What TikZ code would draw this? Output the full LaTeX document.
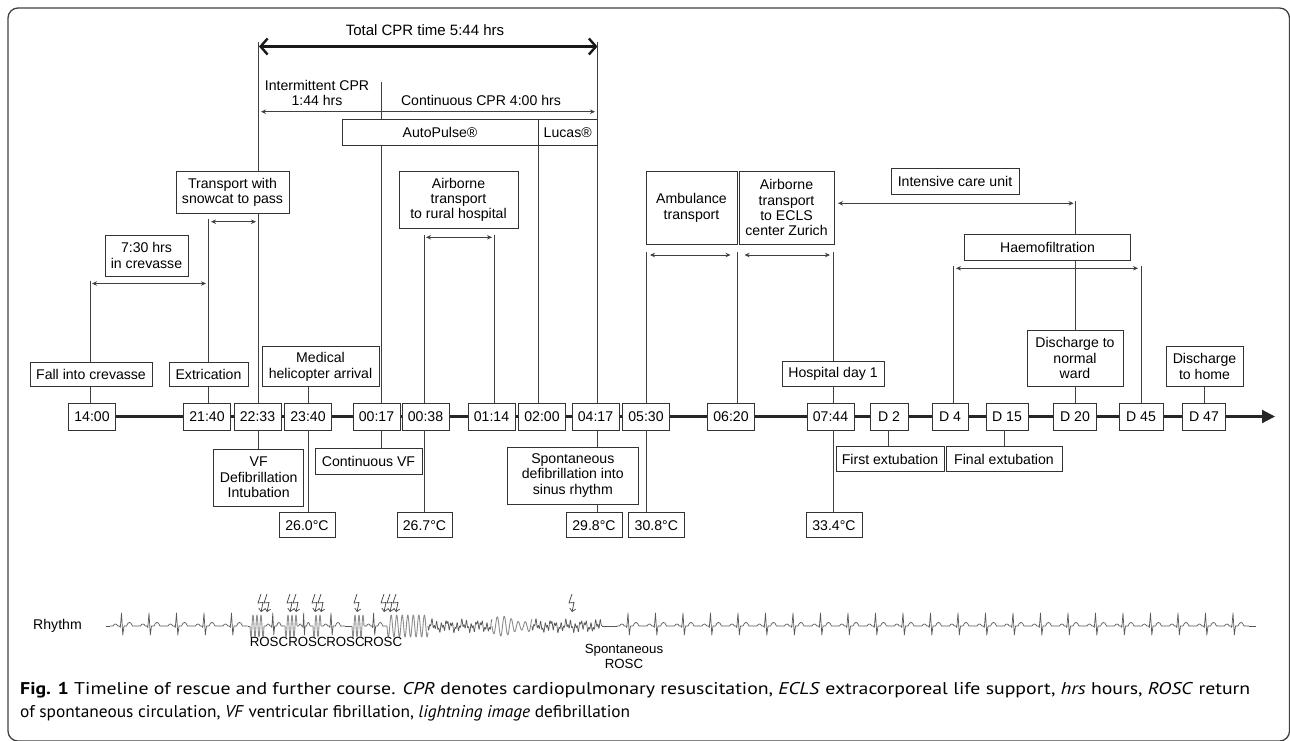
\documentclass[tikz,border=0pt]{standalone}
\usepackage{fontspec}
\usepackage{graphicx}
\setmainfont{Liberation Sans}
\newfontfamily\capfont{PT Sans}
\usetikzlibrary{arrows.meta,backgrounds}
\newcommand\boxfont{\fontsize{14.1}{15.3}\selectfont}
\newcommand\smallfnt{\fontsize{13.3}{15.2}\selectfont}
\newcommand\capsize{\fontsize{17}{20}\selectfont}
\newcommand\capone{\textbf{Fig. 1} Timeline of rescue and further course. \textit{CPR} denotes cardiopulmonary resuscitation, \textit{ECLS} extracorporeal life support, \textit{hrs} hours, \textit{ROSC} return}
\newcommand\captwo{of spontaneous circulation, \textit{VF} ventricular fibrillation, \textit{lightning image} defibrillation}
\begin{document}
\begin{tikzpicture}[x=1pt,y=-1pt,
 box/.style={draw=black!80, line width=0.9pt, fill=white, inner sep=1pt, align=center, font=\boxfont, text=black},
 tbox/.style={box, minimum width=47pt, minimum height=27pt},
 conn/.style={draw=black!75, line width=0.8pt},
 darr/.style={conn, {Stealth[length=5pt,width=4.5pt]}-{Stealth[length=5pt,width=4.5pt]}},
 bigarr/.style={draw=black!90, line width=2.4pt, {Straight Barb[length=7pt,width=16pt]}-{Straight Barb[length=7pt,width=16pt]}},
 axisline/.style={draw=black!85, line width=2.2pt, -{Triangle[length=13pt,width=13pt]}},
 lbl/.style={align=center, font=\boxfont, inner sep=0pt, text=black},
 ecg/.style={draw=black!65, line width=0.7pt, line join=round},
 vfc/.style={draw=black!45, line width=0.9pt, line join=round},
 boltarr/.style={draw=black!75, line width=0.7pt, -{Straight Barb[length=3pt,width=6pt]}},
 beat/.pic={\draw[ecg] (0,0) -- (3,0) -- (4.2,-1.6) -- (5.4,-2) -- (6.6,-1.6) -- (7.8,0) -- (9.5,0) -- (10.3,1.5) -- (11.5,-13) -- (12.8,9) -- (14,0) -- (16.5,0) -- (18,-2.8) -- (19.5,-3.5) -- (21,-2.8) -- (22.5,0) -- (27.5,0);}
]
\useasboundingbox (0,0) rectangle (1290,740);
\draw[black!75, line width=1.3pt, rounded corners=10pt] (8,8) rectangle (1289.5,741);

% ---- time boxes
\node[tbox] (t1400) at (92,416.5) {14:00};
\node[tbox] (t2140) at (207,416.5) {21:40};
\node[tbox] (t2233) at (257.5,416.5) {22:33};
\node[tbox] (t2340) at (308,416.5) {23:40};
\node[tbox] (t0017) at (376.5,416.5) {00:17};
\node[tbox] (t0038) at (425.5,416.5) {00:38};
\node[tbox] (t0114) at (491.5,416.5) {01:14};
\node[tbox] (t0200) at (542,416.5) {02:00};
\node[tbox] (t0417) at (595.5,416.5) {04:17};
\node[tbox] (t0530) at (646,416.5) {05:30};
\node[tbox] (t0620) at (731,416.5) {06:20};
\node[tbox] (t0744) at (830.5,416.5) {07:44};
\node[tbox, minimum width=38pt] (tD2) at (889,416.5) {D 2};
\node[tbox, minimum width=36pt] (tD4) at (950,416.5) {D 4};
\node[tbox, minimum width=42pt] (tD15) at (1007,416.5) {D 15};
\node[tbox, minimum width=43pt] (tD20) at (1075,416.5) {D 20};
\node[tbox, minimum width=44pt] (tD45) at (1141,416.5) {D 45};
\node[tbox, minimum width=43pt] (tD47) at (1204,416.5) {D 47};
\coordinate (axend) at (1275,416.5);
\begin{pgfonlayer}{background}
\draw[axisline] (t1400.east) -- (axend);
\end{pgfonlayer}

% ---- top
\node[lbl, font=\fontsize{15}{16}\selectfont] (title) at (425,30) {Total CPR time 5:44 hrs};
\coordinate (bl) at (259,46.5);
\coordinate (br) at (597.5,46.5);
\draw[bigarr] (bl) -- (br);
\node[lbl] (inter) at (317,93) {Intermittent CPR\\1:44 hrs};
\node[lbl] (cont) at (481,100.7) {Continuous CPR 4:00 hrs};
\coordinate (tl) at (261,111.7);
\coordinate (tr) at (595,111.7);
\draw[darr] (tl) -- (tr);
\node[box, minimum width=196pt, minimum height=25.7pt] (ap) at (440,132.2) {AutoPulse®};
\node[box, minimum width=59.5pt, minimum height=25.7pt] (lucas) at (567.75,132.2) {Lucas®};
\coordinate (v381) at (381,81.7);
\draw[conn] (v381) -- (381,0 |- ap.north);
\draw[conn] (381,0 |- ap.south) -- (381,0 |- t0017.north);
\draw[conn] (538,0 |- ap.south) -- (538,0 |- t0200.north);
\draw[conn] (258,42) -- (258,0 |- t2233.north);
\draw[conn] (597.5,42) -- (597.5,0 |- lucas.north);
\draw[conn] (597.5,0 |- lucas.south) -- (597.5,0 |- t0417.north);

% ---- left upper
\node[box, minimum width=122pt, minimum height=24pt] (fall) at (91,374.7) {Fall into crevasse};
\node[box, minimum width=79pt, minimum height=24pt] (extr) at (208.5,374.7) {Extrication};
\node[box, minimum width=117pt, minimum height=40pt] (med) at (320.5,366.7) {Medical\\helicopter arrival};
\node[box, minimum width=83pt, minimum height=41pt] (thirty) at (146.5,255.5) {7:30 hrs\\in crevasse};
\node[box, minimum width=113pt, minimum height=41.6pt] (snow) at (232.5,192.5) {Transport with\\snowcat to pass};
\node[box, minimum width=119pt, minimum height=56.6pt] (airr) at (458.5,200) {Airborne\\transport\\to rural hospital};

\coordinate (a1l) at (92,283.5); \coordinate (a1r) at (206,283.5);
\draw[darr] (a1l) -- (a1r);
\draw[conn] (90.5,281) -- (90.5,0 |- fall.north);
\draw[conn] (90.5,0 |- fall.south) -- (90.5,0 |- t1400.north);
\coordinate (a2l) at (211,221.7); \coordinate (a2r) at (256,221.7);
\draw[darr] (a2l) -- (a2r);
\draw[conn] (208,218.7) -- (208,0 |- extr.north);
\draw[conn] (208,0 |- extr.south) -- (208,0 |- t2140.north);
\draw[conn] (308,0 |- med.south) -- (308,0 |- t2340.north);
\coordinate (a3l) at (426,237.3); \coordinate (a3r) at (492,237.3);
\draw[darr] (a3l) -- (a3r);
\draw[conn] (424.5,234.5) -- (424.5,0 |- t0038.north);
\draw[conn] (494,234.5) -- (494,0 |- t0114.north);

% ---- lower left
\node[box, minimum width=90pt, minimum height=57pt] (vf) at (258.7,477.5) {VF\\Defibrillation\\Intubation};
\node[box, minimum width=107pt, minimum height=26pt] (cvf) at (368.5,461) {Continuous VF};
\node[box, minimum width=131.6pt, minimum height=57pt] (spont) at (572.8,475.5) {Spontaneous\\defibrillation into\\sinus rhythm};
\node[box, minimum width=56pt, minimum height=25pt] (T260) at (307,525.2) {26.0°C};
\node[box, minimum width=55pt, minimum height=25pt] (T267) at (424.5,525.2) {26.7°C};
\node[box, minimum width=56pt, minimum height=25pt] (T298) at (594,525.2) {29.8°C};
\node[box, minimum width=55.5pt, minimum height=25pt] (T308) at (656.3,525.2) {30.8°C};
\node[box, minimum width=56pt, minimum height=25pt] (T334) at (834,525.2) {33.4°C};
\draw[conn] (258,0 |- t2233.south) -- (258,0 |- vf.north);
\draw[conn] (308.5,0 |- t2340.south) -- (308.5,0 |- T260.north);
\draw[conn] (381,0 |- t0017.south) -- (381,0 |- cvf.north);
\draw[conn] (424.5,0 |- t0038.south) -- (424.5,0 |- T267.north);
\draw[conn] (597.5,0 |- t0417.south) -- (597.5,0 |- spont.north);
\draw[conn] (597.5,0 |- spont.south) -- (597.5,0 |- T298.north);
\draw[conn] (646.5,0 |- t0530.south) -- (646.5,0 |- T308.north);
\draw[conn] (833,0 |- t0744.south) -- (833,0 |- T334.north);

% ---- right
\node[box, minimum width=91pt, minimum height=72.3pt] (amb) at (691.5,207.85) {Ambulance\\transport};
\node[box, minimum width=95pt, minimum height=72.3pt] (ecls) at (786.5,207.85) {Airborne\\transport\\to ECLS\\center Zurich};
\node[box, minimum width=128pt, minimum height=26pt] (icu) at (955,181.3) {Intensive care unit};
\node[box, minimum width=166pt, minimum height=26pt] (haemo) at (1047.5,247.3) {Haemofiltration};
\node[box, minimum width=102pt, minimum height=25pt] (hosp) at (833,373.5) {Hospital day 1};
\node[box, minimum width=96pt, minimum height=56pt] (dnorm) at (1075,358) {Discharge to\\normal\\ward};
\node[box, minimum width=77pt, minimum height=39.3pt] (dhome) at (1204.5,366.4) {Discharge\\to home};
\node[box, minimum width=108pt, minimum height=25.7pt] (fext) at (890,459) {First extubation};
\node[box, minimum width=116pt, minimum height=25.7pt] (finext) at (1004,459) {Final extubation};

\coordinate (a4l) at (650,255); \coordinate (a4r) at (730.5,255);
\draw[darr] (a4l) -- (a4r);
\coordinate (a5l) at (744.6,255); \coordinate (a5r) at (830,255);
\draw[darr] (a5l) -- (a5r);
\draw[conn] (646,252) -- (646,0 |- t0530.north);
\draw[conn] (737.5,252) -- (737.5,0 |- t0620.north);
\draw[conn] (833,252) -- (833,0 |- hosp.north);
\draw[conn] (833,0 |- hosp.south) -- (833,0 |- t0744.north);
\coordinate (a6l) at (838,203.3); \coordinate (a6r) at (1073.6,203.3);
\draw[darr] (a6l) -- (a6r);
\draw[conn] (1075.7,200.5) -- (1075.7,0 |- haemo.north);
\coordinate (a7l) at (956,268.3); \coordinate (a7r) at (1138,268.3);
\draw[darr] (a7l) -- (a7r);
\draw[conn] (953,265.5) -- (953,0 |- tD4.north);
\draw[conn] (1141,265.5) -- (1141,0 |- tD45.north);
\draw[conn] (1075.7,0 |- haemo.south) -- (1075.7,0 |- dnorm.north);
\draw[conn] (1075.7,0 |- dnorm.south) -- (1075.7,0 |- tD20.north);
\draw[conn] (1204,0 |- dhome.south) -- (1204,0 |- tD47.north);
\draw[conn] (888,0 |- tD2.south) -- (888,0 |- fext.north);
\draw[conn] (1004,0 |- tD15.south) -- (1004,0 |- finext.north);

% ---- rhythm strip
\node[lbl] (rhythm) at (57.5,626) {Rhythm};
\draw[ecg] (106,626) -- (110,626);
\foreach \s in {110,137.5,165,192.5,220} \pic at (\s,626) {beat};
\draw[ecg] (247.5,626) -- (250,626);
\draw[vfc] plot[domain=250:264, samples=57] (\x,{626+11*sin((\x-250)*90)});
\pic[xscale=0.764] at (264,626) {beat};
\draw[vfc] plot[domain=285:297, samples=49] (\x,{626+11*sin((\x-285)*90)});
\pic[xscale=0.58] at (297,626) {beat};
\draw[vfc] plot[domain=313:321, samples=33] (\x,{626+11*sin((\x-313)*90)});
\pic[xscale=0.87] at (321,626) {beat};
\draw[ecg] (344.9,626) -- (352,626);
\draw[vfc] plot[domain=352:364, samples=49] (\x,{626+11*sin((\x-352)*90)});
\pic[xscale=0.836] at (364,626) {beat};
\draw[vfc] plot[domain=387:428, samples=165] (\x,{626+11*sin((\x-387)*65)});
\draw[ecg] plot[domain=428:492, samples=257] (\x,{626+3*sin((\x-428)*72)+2.5*sin((\x-428)*157)-2*sin((\x-428)*23)});
\draw[vfc] plot[domain=492:532, samples=161] (\x,{626+10*sin((\x-492)*51.43)*(0.7+0.3*sin((\x-492)*9))});
\draw[ecg] plot[domain=532:602, samples=281] (\x,{626+3*sin((\x-532)*72)+2.5*sin((\x-532)*157)-2*sin((\x-532)*23)});
\draw[ecg] (602,626) -- (616.5,626);
\foreach \i in {0,...,22} \pic at ({616.5+27.5*\i},626) {beat};
\draw[ecg] (1249,626) -- (1256,626);
\foreach \b in {261,267,290,296,315,321,357,384,390,396,572}
  \draw[boltarr] (\b,594) -- ({\b-3},603) -- ({\b+2},602.5) -- (\b,612);
\node[lbl, font=\smallfnt] (r1) at (269,642) {ROSC};
\node[lbl, font=\smallfnt] (r2) at (307.5,642) {ROSC};
\node[lbl, font=\smallfnt] (r3) at (345.5,642) {ROSC};
\node[lbl, font=\smallfnt] (r4) at (383,642) {ROSC};
\node[lbl, font=\smallfnt] (sr) at (624,656.5) {Spontaneous\\ROSC};

% ---- caption
\node[anchor=west, inner sep=0pt] (cap1) at (20,690) {\resizebox{1230pt}{\height}{\capfont\capsize\capone}};
\node[anchor=west, inner sep=0pt] (cap2) at (20,713) {\resizebox{610pt}{\height}{\capfont\capsize\captwo}};
\end{tikzpicture}
\end{document}
